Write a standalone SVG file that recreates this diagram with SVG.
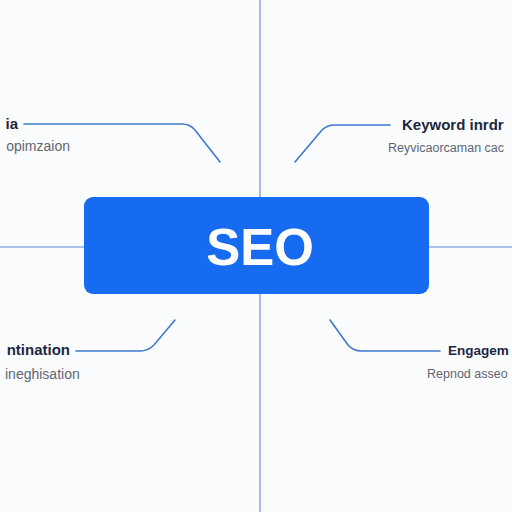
<svg xmlns="http://www.w3.org/2000/svg" width="512" height="512" viewBox="0 0 512 512">
<style>
.axis{stroke:#8fb0e0;stroke-width:1.6;fill:none}
.con{stroke:#3f78cc;stroke-width:1.6;fill:none;stroke-linecap:round}
.t{font-family:"Liberation Sans",Arial,sans-serif;font-weight:bold;font-size:15px;fill:#1b2840}
.s{font-family:"Liberation Sans",Arial,sans-serif;font-size:14px;fill:#5f6572}
</style>
<rect width="512" height="512" fill="#fbfcfd"/>
<g id="connectors">
<line class="axis" x1="260" y1="0" x2="260" y2="512"/>
<line class="axis" x1="0" y1="247" x2="86" y2="247"/>
<line class="axis" x1="428" y1="247" x2="512" y2="247"/>
<path class="con" d="M24 124 H182 Q190 124 195 130 L220 162"/>
<path class="con" d="M295 162 L322 130 Q327 125 335 125 H390"/>
<path class="con" d="M76 351 H140 Q148 351 154 345 L175 320"/>
<path class="con" d="M330 320 L348 345 Q353 351 362 351 H440"/>
</g>
<g id="seo">
<rect x="84" y="197" width="345" height="97" rx="9" fill="#166bf0"/>
<text x="260" y="265" text-anchor="middle" font-family="'Liberation Sans',Arial,sans-serif" font-weight="bold" font-size="51" fill="#ffffff">SEO</text>
</g>
<g id="top-left">
<text class="t" x="18" y="129" text-anchor="end">ia</text>
<text class="s" x="70" y="151" text-anchor="end">opimzaion</text>
</g>
<g id="top-right">
<text class="t" x="402" y="130">Keyword inrdr</text>
<text class="s" x="388" y="152" style="font-size:12.5px">Reyvicaorcaman cac</text>
</g>
<g id="bottom-left">
<text class="t" x="70" y="355" text-anchor="end">ntination</text>
<text class="s" x="5" y="379">ineghisation</text>
</g>
<g id="bottom-right">
<text class="t" x="448" y="355" style="font-size:13.5px">Engagem</text>
<text class="s" x="427" y="378" style="font-size:12.5px">Repnod asseo</text>
</g>
</svg>
